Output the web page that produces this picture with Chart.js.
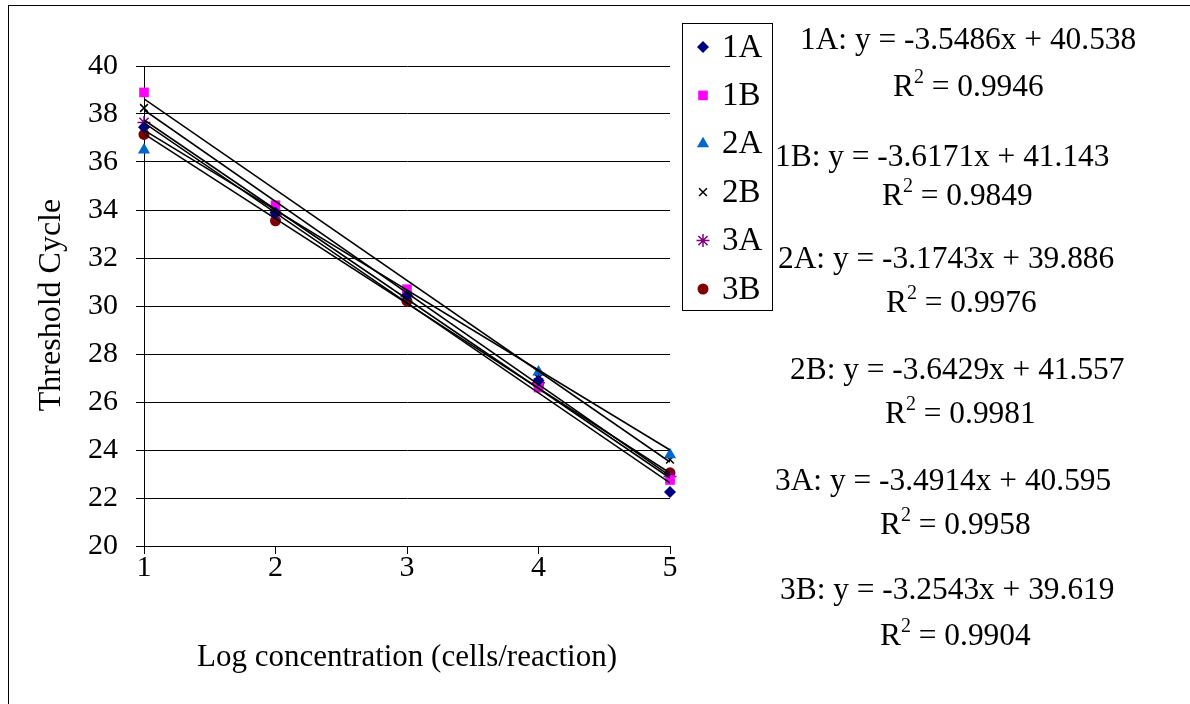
<!DOCTYPE html>
<html>
<head>
<meta charset="utf-8">
<script src="https://cdn.jsdelivr.net/npm/chart.js@4/dist/chart.umd.min.js"></script>
<style>
  body { margin: 0; background: #fff; }
  #wrap { position: relative; width: 1190px; height: 704px; overflow: hidden; }
  #frame { position: absolute; left: 8px; top: 5px; width: 1200px; height: 720px; border: 1px solid #000; box-sizing: border-box; }
  canvas { position: absolute; left: 0; top: 0; }
  .eq { position: absolute; font: 31.4px "Liberation Serif", "Times New Roman", serif; line-height: 30px; white-space: nowrap; color: #000; }
  .eq sup { font-size: 20px; line-height: 0; vertical-align: 13px; }
</style>
</head>
<body>
<div id="wrap">
  <div id="frame"></div>
  <canvas id="qpcrChart" width="1190" height="704"></canvas>
</div>
<script>
// ========= DATA =========
const xValues = [1, 2, 3, 4, 5];
const seriesNames = ['1A', '1B', '2A', '2B', '3A', '3B'];
const series1A = [37.45, 33.9, 30.45, 26.9, 22.25];
const series1B = [38.9, 34.2, 30.7, 26.6, 22.75];
const series2A = [36.5, 34.0, 30.5, 27.25, 23.8];
const series2B = [38.25, 33.9, 30.45, 27.0, 23.6];
const series3A = [37.65, 33.8, 30.4, 26.8, 22.9];
const series3B = [37.15, 33.55, 30.2, 26.75, 23.05];
const allSeries = [series1A, series1B, series2A, series2B, series3A, series3B];

// trendline ends as they sit on the plot (value at x = 1 and at x = 5)
const trendAtFirst = [37.63, 38.17, 37.33, 38.63, 37.75, 37.17];
const trendAtLast = [22.63, 22.92, 24.0, 23.5, 22.83, 23.04];

// trendline equations as printed on the chart
const slopes = ['-3.5486', '-3.6171', '-3.1743', '-3.6429', '-3.4914', '-3.2543'];
const intercepts = ['40.538', '41.143', '39.886', '41.557', '40.595', '39.619'];
const rSquared = ['0.9946', '0.9849', '0.9976', '0.9981', '0.9958', '0.9904'];

const yMin = 20, yMax = 40, yStep = 2;
const xTitle = 'Log concentration (cells/reaction)';
const yTitle = 'Threshold Cycle';

// ========= STYLE =========
const FONT = '"Liberation Serif", "Times New Roman", serif';
const markerColors = ['#000080', '#FF00FF', '#0066CC', '#000000', '#800080', '#800000'];
const markerStyles = ['rectRot', 'rect', 'triangle', 'crossRot', 'star', 'circle'];
const markerRadius = [6, 6.8, 7, 5.5, 6.5, 5.5];

// label placement (left x, centre y) for each trendline label
const eqLeft = [800, 775, 778, 790, 775, 780];
const eqMidY = [40, 157, 259, 370, 481, 590];
const r2Left = [893, 882, 886, 885, 880, 880];
const r2MidY = [87, 196, 303, 414, 525, 636];

const datasets = [];

// trendlines
seriesNames.forEach((name, i) => {
    datasets.push({
        type: 'line',
        label: name + ' trend',
        data: [
            { x: xValues[0], y: trendAtFirst[i] },
            { x: xValues[xValues.length - 1], y: trendAtLast[i] },
        ],
        borderColor: '#000',
        borderWidth: 1.6,
        pointRadius: 0,
        fill: false,
        order: 0,
    });
});

seriesNames.forEach((name, i) => {
    const stroked = markerStyles[i] === 'crossRot' || markerStyles[i] === 'star';
    datasets.push({
        type: 'scatter',
        label: name,
        data: xValues.map((x, k) => ({ x: x, y: allSeries[i][k] })),
        pointStyle: markerStyles[i],
        pointRadius: markerRadius[i],
        backgroundColor: markerColors[i],
        borderColor: markerColors[i],
        borderWidth: stroked ? 1.5 : 0,
        clip: false,
        order: 1,
    });
});

function drawMarker(ctx, i, x, y) {
    const stroked = markerStyles[i] === 'crossRot' || markerStyles[i] === 'star';
    ctx.save();
    ctx.fillStyle = markerColors[i];
    ctx.strokeStyle = markerColors[i];
    ctx.lineWidth = 1.5;
    Chart.helpers.drawPoint(ctx, {
        pointStyle: markerStyles[i],
        radius: markerRadius[i],
        rotation: 0,
        borderWidth: stroked ? 1.5 : 0,
    }, x, y);
    ctx.restore();
}

// axis titles + boxed legend
const decorPlugin = {
    id: 'decor',
    afterDraw(chart) {
        const ctx = chart.ctx;
        const area = chart.chartArea;
        ctx.save();
        ctx.fillStyle = '#000';
        ctx.textAlign = 'center';
        ctx.textBaseline = 'middle';
        ctx.font = '31px ' + FONT;
        ctx.fillText(xTitle, (area.left + area.right) / 2, 658);
        ctx.font = '32px ' + FONT;
        ctx.translate(52, 305);
        ctx.rotate(-Math.PI / 2);
        ctx.fillText(yTitle, 0, 0);
        ctx.restore();

        // legend box
        ctx.save();
        ctx.strokeStyle = '#000';
        ctx.lineWidth = 1;
        ctx.strokeRect(682.5, 23.5, 90, 287);
        ctx.font = '33px ' + FONT;
        ctx.textAlign = 'left';
        ctx.textBaseline = 'middle';
        seriesNames.forEach((name, i) => {
            const y = 47 + i * 48.4;
            drawMarker(ctx, i, 703, y);
            ctx.fillStyle = '#000';
            ctx.fillText(name, 722, y + 1);
        });
        ctx.restore();
    }
};

const ctx = document.getElementById('qpcrChart').getContext('2d');
const chart = new Chart(ctx, {
    type: 'scatter',
    data: { datasets: datasets },
    plugins: [decorPlugin],
    options: {
        responsive: false,
        animation: false,
        layout: { padding: { top: 66, right: 520, left: 0, bottom: 0 } },
        plugins: { legend: { display: false }, tooltip: { enabled: false } },
        scales: {
            x: {
                type: 'linear',
                min: xValues[0],
                max: xValues[xValues.length - 1],
                ticks: { stepSize: 1, color: '#000', font: { family: FONT, size: 30 }, padding: -4 },
                grid: { drawOnChartArea: false, drawTicks: true, tickLength: 8, color: '#000' },
                border: { display: true, color: '#000', width: 1 },
                afterFit(scale) { scale.height = 158; },
            },
            y: {
                min: yMin,
                max: yMax,
                ticks: { stepSize: yStep, color: '#000', font: { family: FONT, size: 30 }, padding: 18 },
                grid: { color: '#000', tickLength: 8, lineWidth: 1 },
                border: { display: true, color: '#000', width: 1 },
                afterFit(scale) { scale.width = 144; },
            },
        },
    },
});

// trendline labels
const wrap = document.getElementById('wrap');
seriesNames.forEach((name, i) => {
    const eq = document.createElement('div');
    eq.className = 'eq';
    eq.style.left = eqLeft[i] + 'px';
    eq.style.top = (eqMidY[i] - 16) + 'px';
    eq.textContent = `${name}: y = ${slopes[i]}x + ${intercepts[i]}`;
    wrap.appendChild(eq);

    const r2 = document.createElement('div');
    r2.className = 'eq';
    r2.style.left = r2Left[i] + 'px';
    r2.style.top = (r2MidY[i] - 16) + 'px';
    r2.innerHTML = `R<sup>2</sup> = ${rSquared[i]}`;
    wrap.appendChild(r2);
});
</script>
</body>
</html>
